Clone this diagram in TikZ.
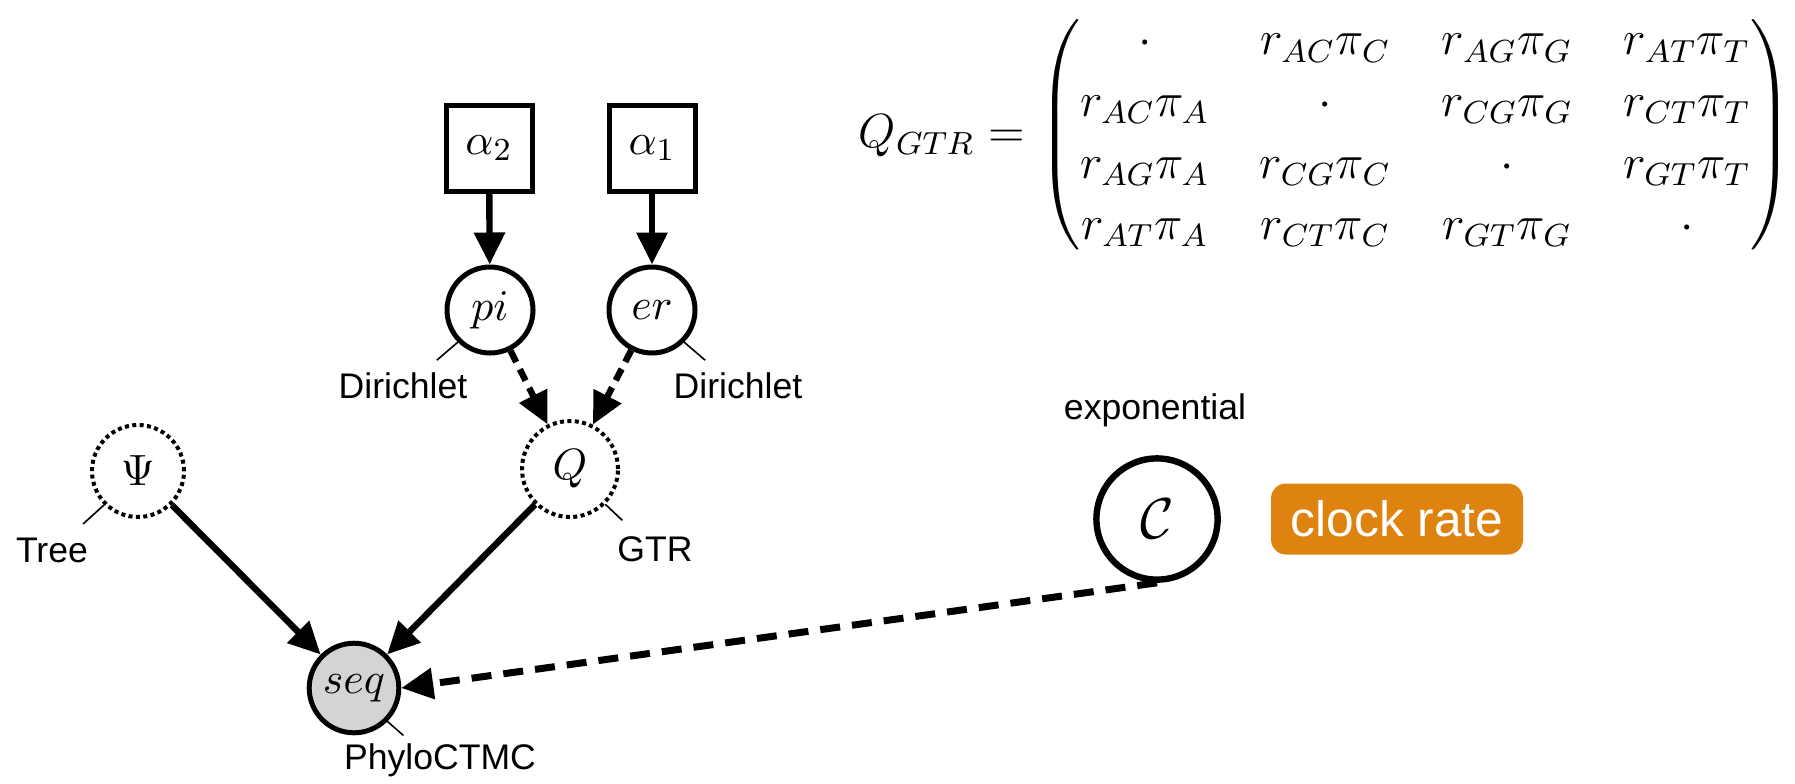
\documentclass[tikz,border=0pt]{standalone}
\usepackage{amsmath}
\usepackage{fontspec}
\newfontfamily\labfont{Liberation Sans}
\usetikzlibrary{arrows.meta}
\definecolor{clockorange}{HTML}{DE8310}
\begin{document}
\begin{tikzpicture}[x=0.25pt,y=-0.25pt,
  mathfont/.style={font=\fontsize{10.95}{13}\selectfont},
  stoch/.style={circle, draw, line width=1.25pt, minimum size=21.5pt, inner sep=0pt, mathfont},
  determ/.style={circle, draw, line width=1pt, dash pattern=on 1pt off 0.85pt, minimum size=23pt, inner sep=0pt, mathfont},
  constbox/.style={rectangle, draw, line width=1.25pt, minimum size=21.5pt, inner sep=0pt, mathfont},
  lab/.style={font=\labfont\fontsize{8.9}{10}\selectfont, inner sep=0pt},
  pinline/.style={line width=0.4pt},
  arr/.style={line width=1.6pt, -{Triangle[length=8pt,width=7.5pt]}},
  darr/.style={arr, dash pattern=on 3.2pt off 2pt},
  longdarr/.style={line width=1.75pt, dash pattern=on 5pt off 3pt, -{Triangle[length=8pt,width=7.5pt]}},
]
\useasboundingbox (0,0) rectangle (1795,783);

% matrix
\node[anchor=west, inner sep=0pt, font=\fontsize{12}{14}\selectfont] (qgtr) at (858,135)
  {\renewcommand{\arraystretch}{1.1}\setlength{\arraycolsep}{6.3pt}%
  $Q_{GTR} = \begin{pmatrix}
  \cdot & r_{AC}\pi_C & r_{AG}\pi_G & r_{AT}\pi_T \\
  r_{AC}\pi_A & \cdot & r_{CG}\pi_G & r_{CT}\pi_T \\
  r_{AG}\pi_A & r_{CG}\pi_C & \cdot & r_{GT}\pi_T \\
  r_{AT}\pi_A & r_{CT}\pi_C & r_{GT}\pi_G & \cdot
  \end{pmatrix}$};

% constants
\node[constbox] (a2) at (489,148) {$\alpha_2$};
\node[constbox] (a1) at (652,148) {$\alpha_1$};

% stochastic nodes
\node[stoch] (pi) at (490,310) {$pi$};
\node[stoch] (er) at (652,310) {$er$};
\node[determ] (psi) at (138,471) {$\Psi$};
\node[determ, minimum size=24pt] (Q) at (570,469) {$Q$};
\node[stoch, fill=black!17, minimum size=22.4pt] (seq) at (354,688) {$seq$};
\node[stoch, line width=1.6pt, minimum size=30.3pt, font=\fontsize{14.4}{17}\selectfont] (c) at (1157,519) {$\mathcal{C}$};

% labels
\node[lab] (lpi) at (403,386) {Dirichlet};
\node[lab] (ler) at (738,386) {Dirichlet};
\node[lab] (lpsi) at (52,550) {Tree};
\node[lab] (lQ) at (655,549) {GTR};
\node[lab] (lseq) at (440,760) {PhyloCTMC};
\node[lab] (lc) at (1155,410) {exponential};

\node[fill=clockorange, rounded corners=3.75pt, minimum width=63pt, minimum height=17.75pt, inner sep=0pt,
  text=white, font=\labfont\fontsize{12.4}{14}\selectfont] (clk) at (1397,519) {clock rate};

% pin lines
\draw[pinline] (pi.south west) -- ++(-21,18);
\draw[pinline] (er.south east) -- ++(21,18);
\draw[pinline] (psi.south west) -- ++(-21,19);
\draw[pinline] (Q.south east) -- ++(17,16);
\draw[pinline] (seq.south east) -- ++(16,14);

% connectors
\draw[arr] (a2) -- (pi);
\draw[arr] (a1) -- (er);
\draw[darr] (pi) -- (Q);
\draw[darr] (er) -- (Q);
\draw[arr] (psi) -- (seq);
\draw[arr] (Q) -- (seq);
\draw[longdarr] (c.south) -- (seq.east);
\end{tikzpicture}
\end{document}
